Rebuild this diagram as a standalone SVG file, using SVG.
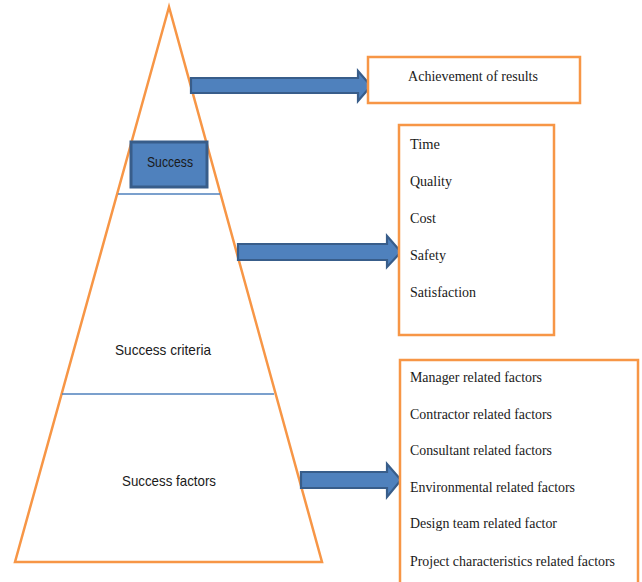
<svg xmlns="http://www.w3.org/2000/svg" width="642" height="582" viewBox="0 0 642 582">
<style>
.tri{fill:none;stroke:#F79646;stroke-width:2.5;stroke-linejoin:miter}
.div{stroke:#4F81BD;stroke-width:1.3}
.box{fill:#fff;stroke:#F79646;stroke-width:2.5}
.arr{fill:#4F81BD;stroke:#385D8A;stroke-width:2.2;stroke-linejoin:miter}
.serif{font-family:"Liberation Serif","Times New Roman",serif;font-size:14px;fill:#1a1a1a}
.sans{font-family:"Liberation Sans",Arial,sans-serif;font-size:15px;fill:#1a1a1a}
</style>
<rect width="642" height="582" fill="#fff"/>
<g id="pyramid">
<polygon class="tri" points="169,7 15,562 322,562"/>
<line class="div" x1="118" y1="194" x2="220" y2="194"/>
<line class="div" x1="62" y1="394" x2="274" y2="394"/>
<text class="sans" x="163" y="355" text-anchor="middle" textLength="96" lengthAdjust="spacingAndGlyphs">Success criteria</text>
<text class="sans" x="169" y="486" text-anchor="middle" textLength="94" lengthAdjust="spacingAndGlyphs">Success factors</text>
</g>
<g id="success">
<rect x="131" y="142" width="76" height="45" fill="#4F81BD" stroke="#385D8A" stroke-width="3"/>
<text class="sans" x="170" y="167" text-anchor="middle" textLength="46" lengthAdjust="spacingAndGlyphs">Success</text>
</g>
<g id="connectors">
<polygon class="arr" points="191,78 358,78 358,71 371,86 358,101 358,93 191,93"/>
<polygon class="arr" points="238,244 387,244 387,236 401,252 387,267 387,260 238,260"/>
<polygon class="arr" points="301,472 387,472 387,464 401,480 387,497 387,488 301,488"/>
</g>
<g id="results">
<rect class="box" x="368" y="57" width="212" height="46"/>
<text class="serif" x="473" y="81" text-anchor="middle">Achievement of results</text>
</g>
<g id="criteria">
<rect class="box" x="399" y="125" width="155" height="210"/>
<text class="serif" x="410" y="149" textLength="30" lengthAdjust="spacingAndGlyphs">Time</text>
<text class="serif" x="410" y="186" textLength="42" lengthAdjust="spacingAndGlyphs">Quality</text>
<text class="serif" x="410" y="223" textLength="26" lengthAdjust="spacingAndGlyphs">Cost</text>
<text class="serif" x="410" y="260" textLength="36" lengthAdjust="spacingAndGlyphs">Safety</text>
<text class="serif" x="410" y="297" textLength="66" lengthAdjust="spacingAndGlyphs">Satisfaction</text>
</g>
<g id="factors">
<rect class="box" x="400" y="360" width="238" height="230"/>
<text class="serif" x="410" y="382" textLength="132" lengthAdjust="spacingAndGlyphs">Manager related factors</text>
<text class="serif" x="410" y="419" textLength="142" lengthAdjust="spacingAndGlyphs">Contractor related factors</text>
<text class="serif" x="410" y="455" textLength="142" lengthAdjust="spacingAndGlyphs">Consultant related factors</text>
<text class="serif" x="410" y="492" textLength="165" lengthAdjust="spacingAndGlyphs">Environmental related factors</text>
<text class="serif" x="410" y="528" textLength="147" lengthAdjust="spacingAndGlyphs">Design team related factor</text>
<text class="serif" x="410" y="566" textLength="205" lengthAdjust="spacingAndGlyphs">Project characteristics related factors</text>
</g>
</svg>
